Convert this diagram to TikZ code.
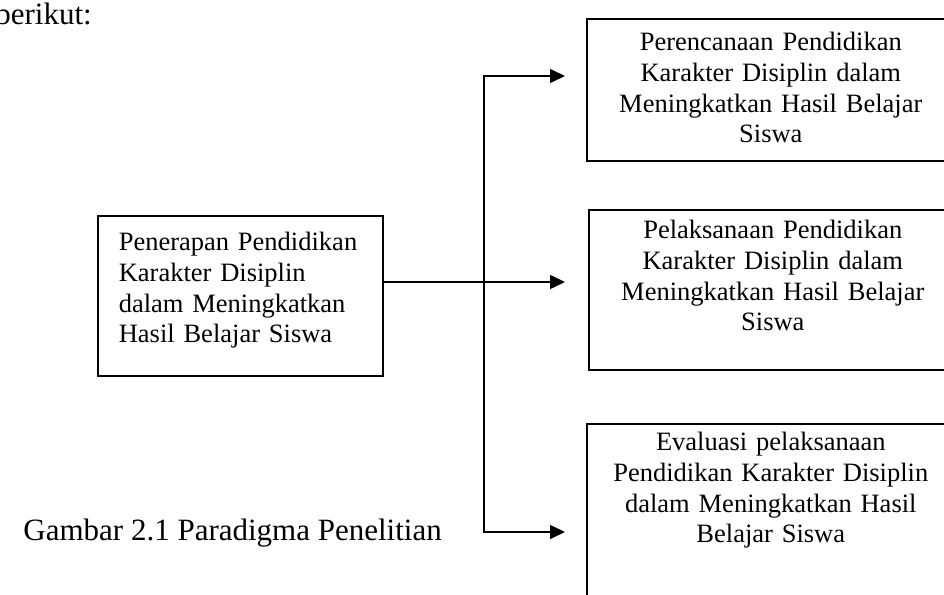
\documentclass[tikz,border=0pt]{standalone}
\usepackage{fontspec}
\setmainfont{Liberation Serif}
\usetikzlibrary{arrows.meta}
\begin{document}
\begin{tikzpicture}[x=1pt,y=-1pt,
  box/.style={draw, line width=1.6pt, rectangle, inner sep=0pt,
    font=\fontsize{26.5}{30.7}\selectfont, text height=20pt},
  rbox/.style={box, anchor=north west, minimum width=368pt, text width=340pt, align=center},
  plain/.style={inner sep=0pt, anchor=base east, font=\fontsize{31}{36}\selectfont},
  conn/.style={line width=1.6pt},
  arr/.style={conn, -{Triangle[length=15pt,width=14pt]}}]
\useasboundingbox (0,0) rectangle (944,594);
\clip (0,0) rectangle (944,594);

\node[plain] (intro) at (92,25) {berikut:};

\node[box, anchor=north west, minimum width=285pt, minimum height=160pt,
  text width=243pt, align=left, text depth=110pt] (app) at (97,215)
  {Penerapan Pendidikan\\Karakter Disiplin\\dalam Meningkatkan\\Hasil Belajar Siswa};

\node[rbox, minimum height=142pt, text depth=98pt] (plan) at (586,18)
  {Perencanaan Pendidikan\\Karakter Disiplin dalam\\Meningkatkan Hasil Belajar\\Siswa};
\node[rbox, minimum height=160pt, text depth=122pt] (exec) at (588,209)
  {Pelaksanaan Pendidikan\\Karakter Disiplin dalam\\Meningkatkan Hasil Belajar\\Siswa};
\node[rbox, minimum height=197pt, text depth=163pt] (eval) at (586,423)
  {Evaluasi pelaksanaan\\Pendidikan Karakter Disiplin\\dalam Meningkatkan Hasil\\Belajar Siswa};

\node[plain] (cap) at (442,540) {Gambar 2.1 Paradigma Penelitian};

\coordinate (hub) at (484,282);
\coordinate (tipA) at (565,76);
\coordinate (tipB) at (565,282);
\coordinate (tipC) at (565,532);

\draw[arr] (app.east |- hub) -- (tipB);
\draw[arr] (hub |- tipA) -- (hub |- tipC) -- (tipC);
\draw[arr, line cap=rect] (hub |- tipA) -- (tipA);
\end{tikzpicture}
\end{document}
